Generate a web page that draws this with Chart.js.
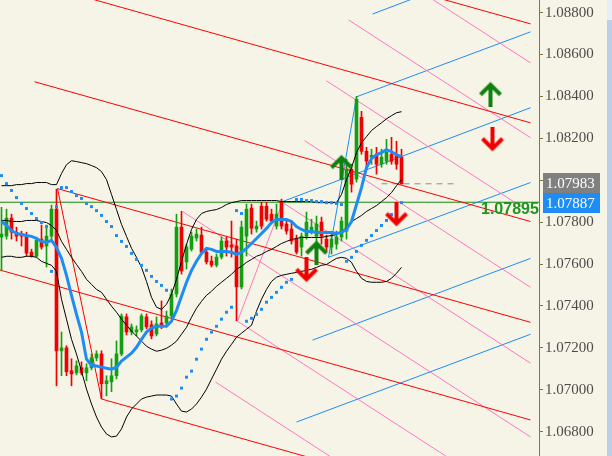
<!DOCTYPE html>
<html><head><meta charset="utf-8">
<script src="https://cdn.jsdelivr.net/npm/chart.js@4.4.0/dist/chart.umd.min.js"></script>
<style>html,body{margin:0;padding:0;background:#F6F4E7;overflow:hidden}canvas{display:block}</style>
</head><body>
<canvas id="c" width="612" height="456"></canvas>
<script>
// ---- candle data (one per bar index) ----
const opens = [1.07729,1.07733,1.07819,1.07752,1.07743,1.07738,1.07657,1.07638,1.07719,1.07686,
1.07733,1.07862,1.07186,1.07200,1.07091,1.07081,1.07105,1.07081,1.07105,1.07152,
1.07171,1.07029,1.07038,1.07067,1.07171,1.07348,1.07276,1.07276,1.07286,1.07348,
1.07310,1.07267,1.07319,1.07319,1.07352,1.07457,1.07776,1.07610,1.07671,1.07724,
1.07738,1.07657,1.07614,1.07595,1.07633,1.07710,1.07691,1.07686,1.07491,1.07733,
1.07867,1.07767,1.07876,1.07876,1.07838,1.07781,1.07895,1.07791,1.07767,1.07719,
1.07681,1.07733,1.07757,1.07733,1.07800,1.07719,1.07681,1.07695,1.07729,1.07757,
1.08052,1.08005,1.08300,1.08138,1.08110,1.08124,1.08076,1.08091,1.08124,1.08124,
1.08110];
const highs = [1.07871,1.07862,1.07838,1.07776,1.07757,1.07752,1.07671,1.07729,1.07786,1.07786,
1.07881,1.07957,1.07276,1.07210,1.07148,1.07138,1.07133,1.07124,1.07171,1.07186,
1.07186,1.07067,1.07148,1.07233,1.07362,1.07362,1.07314,1.07305,1.07362,1.07362,
1.07329,1.07348,1.07424,1.07376,1.07481,1.07838,1.07852,1.07695,1.07752,1.07767,
1.07776,1.07671,1.07638,1.07648,1.07729,1.07729,1.07805,1.07719,1.07805,1.07886,
1.07886,1.07805,1.07895,1.07895,1.07862,1.07886,1.07910,1.07805,1.07805,1.07738,
1.07748,1.07848,1.07814,1.07829,1.07824,1.07738,1.07757,1.07757,1.07824,1.08100,
1.08076,1.08400,1.08329,1.08157,1.08148,1.08157,1.08148,1.08195,1.08205,1.08186,
1.08148];
const lows = [1.07567,1.07719,1.07719,1.07710,1.07686,1.07638,1.07633,1.07633,1.07671,1.07586,
1.07719,1.07019,1.07067,1.07067,1.07019,1.07071,1.07071,1.07043,1.07095,1.07138,
1.06957,1.06971,1.06991,1.07052,1.07162,1.07262,1.07262,1.07257,1.07276,1.07291,
1.07243,1.07257,1.07291,1.07310,1.07338,1.07443,1.07552,1.07576,1.07662,1.07710,
1.07648,1.07600,1.07586,1.07586,1.07624,1.07638,1.07633,1.07329,1.07481,1.07638,
1.07743,1.07752,1.07767,1.07805,1.07791,1.07767,1.07767,1.07743,1.07695,1.07648,
1.07638,1.07719,1.07743,1.07705,1.07695,1.07662,1.07648,1.07671,1.07710,1.07719,
1.07943,1.07991,1.08124,1.08052,1.08076,1.08029,1.08062,1.08076,1.08076,1.08052,
1.07981];
const closes = [1.07743,1.07819,1.07752,1.07733,1.07733,1.07652,1.07638,1.07714,1.07681,1.07733,
1.07862,1.07186,1.07200,1.07086,1.07076,1.07114,1.07081,1.07105,1.07152,1.07171,
1.07029,1.07043,1.07067,1.07171,1.07352,1.07276,1.07300,1.07286,1.07352,1.07300,
1.07257,1.07314,1.07305,1.07352,1.07457,1.07776,1.07567,1.07681,1.07733,1.07743,
1.07657,1.07610,1.07595,1.07633,1.07710,1.07681,1.07681,1.07491,1.07776,1.07862,
1.07771,1.07781,1.07781,1.07814,1.07805,1.07838,1.07781,1.07757,1.07710,1.07657,
1.07733,1.07800,1.07776,1.07791,1.07733,1.07681,1.07719,1.07729,1.07805,1.08052,
1.07981,1.08386,1.08138,1.08091,1.08119,1.08076,1.08110,1.08133,1.08091,1.08076,
1.07983];

// ---- indicators ----
const maValues = [1.07803,1.07784,1.07760,1.07746,1.07741,1.07736,1.07732,1.07722,1.07708,1.07703,
1.07713,1.07679,1.07627,1.07546,1.07451,1.07360,1.07275,1.07146,1.07117,1.07113,
1.07108,1.07103,1.07098,1.07108,1.07137,1.07156,1.07175,1.07203,1.07241,1.07275,
1.07294,1.07303,1.07303,1.07303,1.07327,1.07379,1.07446,1.07513,1.07570,1.07613,
1.07651,1.07675,1.07670,1.07660,1.07660,1.07660,1.07656,1.07646,1.07656,1.07675,
1.07698,1.07722,1.07746,1.07770,1.07798,1.07813,1.07813,1.07813,1.07803,1.07779,
1.07765,1.07755,1.07755,1.07751,1.07751,1.07751,1.07751,1.07746,1.07751,1.07765,
1.07803,1.07884,1.07965,1.08060,1.08103,1.08122,1.08132,1.08146,1.08136,1.08122,
1.08113];
const bbUpper = [1.07974,1.07974,1.07974,1.07979,1.07979,1.07984,1.07984,1.07989,1.07989,1.07989,
1.07979,1.07979,1.08032,1.08074,1.08093,1.08089,1.08084,1.08079,1.08070,1.08060,
1.08041,1.08003,1.07932,1.07860,1.07789,1.07732,1.07675,1.07632,1.07584,1.07517,
1.07441,1.07394,1.07384,1.07408,1.07456,1.07527,1.07613,1.07694,1.07765,1.07813,
1.07841,1.07851,1.07856,1.07860,1.07870,1.07884,1.07893,1.07898,1.07903,1.07903,
1.07903,1.07903,1.07903,1.07903,1.07903,1.07903,1.07898,1.07898,1.07898,1.07898,
1.07898,1.07898,1.07898,1.07893,1.07893,1.07893,1.07893,1.07893,1.07932,1.08003,
1.08060,1.08132,1.08179,1.08208,1.08237,1.08256,1.08274,1.08293,1.08308,1.08322,
1.08327];
const bbMiddle = [1.07808,1.07808,1.07803,1.07803,1.07803,1.07808,1.07808,1.07808,1.07803,1.07798,
1.07784,1.07760,1.07708,1.07670,1.07632,1.07598,1.07565,1.07527,1.07503,1.07479,
1.07465,1.07432,1.07399,1.07370,1.07337,1.07308,1.07280,1.07256,1.07232,1.07208,
1.07194,1.07184,1.07189,1.07198,1.07213,1.07232,1.07265,1.07298,1.07346,1.07389,
1.07422,1.07451,1.07470,1.07494,1.07513,1.07532,1.07551,1.07575,1.07589,1.07608,
1.07622,1.07637,1.07646,1.07660,1.07670,1.07684,1.07698,1.07708,1.07717,1.07722,
1.07727,1.07727,1.07727,1.07727,1.07727,1.07732,1.07736,1.07741,1.07755,1.07774,
1.07803,1.07817,1.07832,1.07851,1.07865,1.07879,1.07898,1.07917,1.07941,1.07974,
1.08003];
const bbLower = [1.07632,1.07637,1.07637,1.07632,1.07632,1.07637,1.07637,1.07632,1.07613,1.07603,
1.07594,1.07565,1.07432,1.07337,1.07241,1.07170,1.07089,1.07003,1.06932,1.06870,
1.06822,1.06789,1.06775,1.06779,1.06813,1.06870,1.06908,1.06932,1.06956,1.06965,
1.06970,1.06975,1.06975,1.06975,1.06970,1.06932,1.06898,1.06894,1.06908,1.06932,
1.06965,1.07003,1.07051,1.07098,1.07146,1.07184,1.07217,1.07251,1.07270,1.07289,
1.07308,1.07375,1.07432,1.07479,1.07517,1.07537,1.07546,1.07551,1.07556,1.07560,
1.07565,1.07570,1.07575,1.07584,1.07594,1.07598,1.07613,1.07627,1.07632,1.07627,
1.07608,1.07565,1.07532,1.07517,1.07513,1.07513,1.07513,1.07517,1.07532,1.07556,
1.07584];
const sarValues = [1.08022,1.07984,1.07951,1.07917,1.07889,1.07865,1.07841,1.07817,1.07798,1.07779,
1.07565,1.07874,1.07965,1.07965,1.07946,1.07927,1.07913,1.07889,1.07874,1.07855,
1.07832,1.07803,1.07779,1.07736,1.07708,1.07684,1.07651,1.07622,1.07594,1.07570,
1.07541,1.07517,1.07498,1.07475,1.06956,1.06970,1.07008,1.07060,1.07089,1.07146,
1.07194,1.07241,1.07275,1.07303,1.07337,1.07370,1.07394,1.07855,1.07841,1.07327,
1.07341,1.07360,1.07384,1.07418,1.07441,1.07465,1.07489,1.07513,1.07527,1.07908,
1.07908,1.07903,1.07903,1.07898,1.07898,1.07893,1.07893,1.07889,1.07884,1.07613,
1.07632,1.07660,1.07689,1.07713,1.07736,1.07760,1.07784,1.07808,1.07836,1.07860,
1.07893];

// ---- price axis ----
const yTicks = [1.068,1.070,1.072,1.074,1.076,1.078,1.080,1.082,1.084,1.086,1.088];
const yTickLabels = ['1.06800','1.07000','1.07200','1.07400','1.07600','1.07800','1.08000','1.08200','1.08400','1.08600','1.08800'];
const yMin = 1.06684, yMax = 1.0886;
const xMin = -0.3, xMax = 107.5;

// ---- drawn objects: [barIndex1, price1, barIndex2, price2] ----
const redLines = [[80,1.08919,105.8,1.08746],[10,1.08919,105.8,1.08274],[6.6,1.08470,105.8,1.07803],
 [11.2,1.07960,105.8,1.07322],[-0.4,1.07572,105.8,1.06856],[20,1.06956,105.8,1.06380],[11.2,1.07960,20,1.06956]];
const pinkLines = [[36.2,1.07851,105.8,1.06775],[56.2,1.07894,105.8,1.07127],[47.2,1.07327,105.8,1.06422],
 [60.6,1.08189,105.8,1.07489],[65,1.08474,105.8,1.07846],[69.4,1.08765,105.8,1.08203],[73.8,1.09055,105.8,1.08560],
 [42.8,1.07037,105.8,1.06061],[47.2,1.07327,56.2,1.07894]];
const blueLines = [[56.2,1.07898,105.8,1.08346],[71,1.08398,105.8,1.08708],[65.4,1.07632,105.8,1.07989],
 [62.2,1.07237,105.8,1.07627],[59,1.06846,105.8,1.07265],[74.2,1.08793,105.8,1.09079],[71,1.08398,65.4,1.07632]];
const levelLine = [-1,1.07895,110,1.07895];
const bidDash = [76,1.07983,91.2,1.07983];
const upArrows = [[68,1.08065],[97.8,1.08413],[63,1.07656]];
const downArrows = [[98.2,1.08194],[79,1.07836],[61,1.07570]];
const textLabels = [{text:'1.07895', x:95.9, y:1.07858}];
const priceTags = [{price:1.07983, bg:'#808080'},{price:1.07887, bg:'#1E8CF5'}];

const BG = '#F6F4E7', UP = '#12A012', DN = '#F00000';

function seg(a, color, extra){
  return Object.assign({type:'line', data:[{x:a[0],y:a[1]},{x:a[2],y:a[3]}], borderColor:color, borderWidth:1,
    pointRadius:0, fill:false, tension:0, order:10}, extra||{});
}
function arrowImg(color, up){
  const c = document.createElement('canvas'); c.width = 24; c.height = 26;
  const g = c.getContext('2d'); g.strokeStyle = color; g.lineWidth = 4; g.lineJoin = 'miter';
  g.save(); if(!up){ g.translate(0,26); g.scale(1,-1); }
  g.beginPath(); g.moveTo(12,5); g.lineTo(12,26); g.stroke();
  g.beginPath(); g.moveTo(2,14); g.lineTo(12,4); g.lineTo(22,14); g.stroke();
  g.restore(); return c;
}
const idx = opens.map((_,i)=>i);
const isUp = idx.map(i => closes[i] >= opens[i]);
const datasets = [];
redLines.forEach(l => datasets.push(seg(l, '#FF0000')));
pinkLines.forEach(l => datasets.push(seg(l, '#FF78C0')));
blueLines.forEach(l => datasets.push(seg(l, '#1E8CF5')));
datasets.push(seg(levelLine, '#128A12'));
datasets.push(seg(bidDash, '#8C8C8C', {borderDash:[6,5]}));
datasets.push({type:'bar', data: idx.map(i=>({x:i, y:[lows[i], highs[i]]})), backgroundColor: idx.map(i=>isUp[i]?UP:DN),
  barThickness:1, grouped:false, order:6, borderWidth:0});
datasets.push({type:'bar', data: idx.map(i=>({x:i, y:[Math.min(opens[i],closes[i]), Math.max(opens[i],closes[i])]})),
  backgroundColor: idx.map(i=>isUp[i]?UP:DN), barThickness:3, minBarLength:1, grouped:false, order:5, borderWidth:0});
[bbUpper, bbMiddle, bbLower].forEach(arr => datasets.push({type:'line', data: idx.map(i=>({x:i,y:arr[i]})),
  borderColor:'#000000', borderWidth:1, pointRadius:0, tension:0, fill:false, order:3}));
datasets.push({type:'line', data: idx.map(i=>({x:i,y:maValues[i]})), borderColor:'#1E8CF5', borderWidth:3,
  pointRadius:0, tension:0, fill:false, order:2});
datasets.push({type:'line', data: idx.map(i=>({x:i,y:sarValues[i]})), showLine:false, pointStyle:'rect',
  pointRadius:2.1, pointBackgroundColor:'#1E8CF5', pointBorderWidth:0, order:1});
datasets.push({type:'line', data: upArrows.map(a=>({x:a[0],y:a[1]})), showLine:false,
  pointStyle: arrowImg('#0E820E', true), order:0});
datasets.push({type:'line', data: downArrows.map(a=>({x:a[0],y:a[1]})), showLine:false,
  pointStyle: arrowImg('#F00000', false), order:0});

const decor = {
  id:'decor',
  beforeDraw(ch){ const g = ch.ctx; g.save(); g.fillStyle = BG; g.fillRect(0,0,ch.width,ch.height); g.restore(); },
  afterDraw(ch){
    const g = ch.ctx, xs = ch.scales.x, ys = ch.scales.y, right = ch.chartArea.right;
    g.save();
    textLabels.forEach(t => {
      g.font = 'bold 16px "Liberation Sans", Arial, sans-serif'; g.fillStyle = '#1E961E';
      g.textAlign = 'left'; g.textBaseline = 'middle';
      g.fillText(t.text, xs.getPixelForValue(t.x), ys.getPixelForValue(t.y));
    });
    priceTags.forEach(p => {
      const y = Math.round(ys.getPixelForValue(p.price));
      g.fillStyle = p.bg; g.fillRect(right+4, y-11, 57, 20);
      g.fillStyle = '#FFFFFF'; g.font = '15px "Liberation Serif", serif';
      g.textAlign = 'left'; g.textBaseline = 'middle'; g.fillText(p.price.toFixed(5), right+7, y);
    });
    g.fillStyle = '#BBCFE8'; g.fillRect(607,0,5,ch.height);
    g.fillStyle = '#E6EEF8'; g.fillRect(607,0,5,20);
    g.restore();
  }
};

new Chart(document.getElementById('c'), {
  type:'bar',
  data:{datasets},
  options:{
    responsive:false, animation:false, events:[],
    layout:{padding:0, autoPadding:false},
    plugins:{legend:{display:false}, tooltip:{enabled:false}},
    scales:{
      x:{type:'linear', min:xMin, max:xMax, offset:false, display:false},
      y:{type:'linear', position:'right', min:yMin, max:yMax,
        afterFit(s){ s.width = 73; s.paddingTop = 0; s.paddingBottom = 0; },
        afterBuildTicks(s){ s.ticks = yTicks.map(v=>({value:v})); },
        ticks:{ autoSkip:false, padding:2, color:'#4C4C4C', font:{family:'"Liberation Serif", serif', size:15},
          callback:(v,i)=>yTickLabels[i] },
        grid:{ drawOnChartArea:false, drawTicks:true, tickLength:4, color:'#7A7A3A' },
        border:{display:true, color:'#7A7A3A'}
      }
    }
  },
  plugins:[decor]
});
</script>
</body></html>
